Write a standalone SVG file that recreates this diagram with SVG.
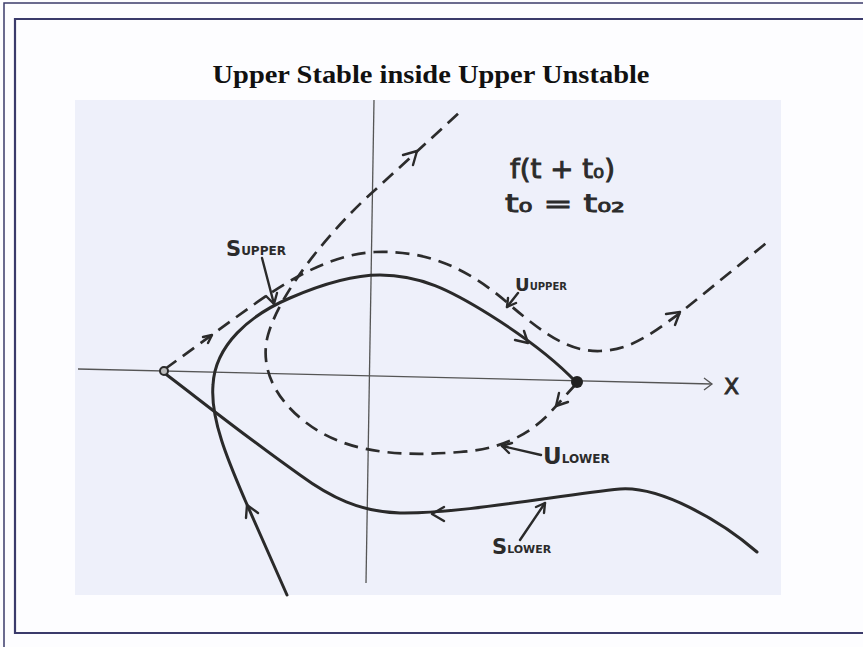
<svg xmlns="http://www.w3.org/2000/svg" width="863" height="647" viewBox="0 0 863 647">
<defs>
<style>
.frame{fill:none;stroke:#3b3b6b}
.dash{fill:none;stroke:#2c2c2c;stroke-width:2.7;stroke-dasharray:14 8;stroke-linecap:butt}
.solid{fill:none;stroke:#2a2a2a;stroke-width:3;stroke-linecap:round;stroke-linejoin:round}
.head{fill:none;stroke:#2a2a2a;stroke-width:2.4;stroke-linecap:round;stroke-linejoin:round}
.axis{fill:none;stroke:#555;stroke-width:1.3}
.hand{font-family:"DejaVu Sans","Liberation Sans",sans-serif;fill:#2b2b2b;font-weight:bold}
.handlight{font-family:"DejaVu Sans","Liberation Sans",sans-serif;fill:#2b2b2b;font-weight:normal;stroke:#2b2b2b;stroke-width:0.9}
.title{font-family:"Liberation Serif","Times New Roman",serif;font-weight:bold;font-size:26px;fill:#111}
</style>
</defs>
<rect x="0" y="0" width="863" height="647" fill="#fdfdff"/>
<g id="frame">
<path class="frame" stroke-width="1.5" d="M4,647 L4,3 L863,3"/>
<path class="frame" stroke-width="2.2" d="M870,19 L15,19 L15,633 L870,633"/>
</g>
<g id="title"><text class="title" x="431" y="83" text-anchor="middle" textLength="437" lengthAdjust="spacingAndGlyphs">Upper Stable inside Upper Unstable</text></g>
<g id="sketch-bg"><rect x="75" y="100" width="706" height="495" fill="#eef0fa"/></g>
<g id="axes">
<path class="axis" d="M78,369 L712,384"/>
<path class="axis" d="M704,378 L712,384 L704,390"/>
<path class="axis" d="M374,100 L366,583"/>
<text class="handlight" x="724" y="394" font-size="22">X</text>
</g>
<g id="connectors">
<path class="dash" d="M165,369 L235,318 C270,293 320,255 375,252 C430,250 470,270 510,305 C545,335 570,352 600,351 C630,350 650,335 680,313 L770,240"/>
<path class="head" d="M203,337 L212,335 L208,343"/>
<path class="head" d="M666,314 L680,312 L675,325"/>
<path class="dash" d="M576,384 L548,415 C525,438 495,450 460,452 C410,456 360,455 320,432 C280,408 258,372 268,335 C280,292 330,230 375,190 L460,112"/>
<path class="head" d="M568,402 L556,406 L559,393"/>
<path class="head" d="M403,155 L417,151 L413,165"/>
<path class="solid" d="M287,595 L245,500 C230,465 210,420 213,385 C215,345 250,315 290,298 C320,285 350,275 380,275 C420,275 450,290 490,315 C525,337 555,360 576,382"/>
<path class="head" d="M246,518 L247,505 L258,513"/>
<path class="head" d="M524,331 L528,343 L515,340"/>
<path class="solid" d="M163,372 C200,400 250,440 300,475 C330,497 360,512 400,513 C460,514 560,495 620,489 C660,486 720,520 757,552"/>
<path class="head" d="M444,507 L432,514 L444,521"/>
</g>
<g id="points">
<circle cx="164" cy="371" r="4" fill="#bbb" stroke="#2a2a2a" stroke-width="2"/>
<circle cx="577" cy="382" r="6" fill="#222"/>
</g>
<g id="label-supper">
<text class="hand" x="226" y="256" font-size="21">S<tspan font-size="12" dy="-1">UPPER</tspan></text>
<path class="solid" style="stroke-width:2.4" d="M262,258 L274,304"/>
<path class="head" d="M277,293 L274,304 L266,296"/>
</g>
<g id="label-uupper">
<text class="hand" x="515" y="291" font-size="18">U<tspan font-size="10" dy="-1">UPPER</tspan></text>
<path class="solid" style="stroke-width:2.4" d="M518,293 L507,307"/>
<path class="head" d="M516,303 L507,307 L508,298"/>
</g>
<g id="label-ulower">
<text class="hand" x="543" y="464" font-size="23">U<tspan font-size="12" dy="-1">LOWER</tspan></text>
<path class="solid" style="stroke-width:2.4" d="M541,455 L502,446"/>
<path class="head" d="M509,453 L502,446 L512,443"/>
</g>
<g id="label-slower">
<text class="hand" x="492" y="554" font-size="21">S<tspan font-size="11" dy="-1">LOWER</tspan></text>
<path class="solid" style="stroke-width:2.4" d="M520,540 L545,503"/>
<path class="head" d="M536,507 L545,503 L544,513"/>
</g>
<g id="formula">
<text class="handlight" x="510" y="178" font-size="26" textLength="105" lengthAdjust="spacingAndGlyphs">f(t + t₀)</text>
<text class="handlight" x="505" y="212" font-size="24" textLength="120" lengthAdjust="spacingAndGlyphs">t₀ = t₀₂</text>
</g>
</svg>
